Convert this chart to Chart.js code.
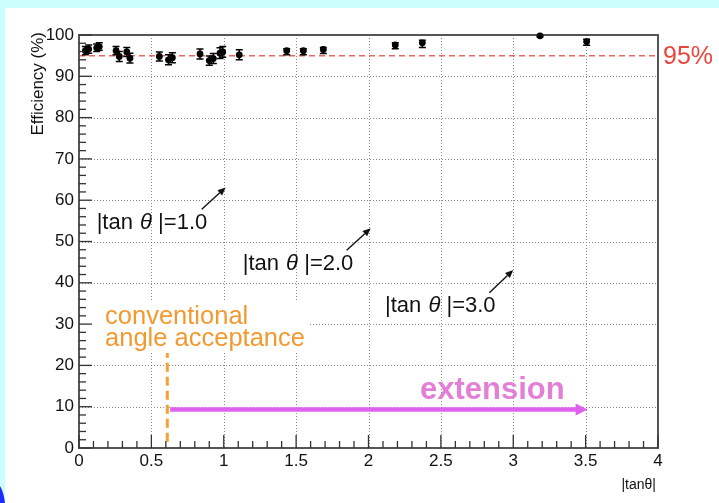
<!DOCTYPE html>
<html>
<head>
<meta charset="utf-8">
<script src="https://cdn.jsdelivr.net/npm/chart.js@4.4.0/dist/chart.umd.min.js"></script>
<style>
  html, body { margin: 0; padding: 0; background: #ccfefe; }
  #wrap { width: 719px; height: 503px; }
</style>
</head>
<body>
<div id="wrap"><canvas id="c" width="719" height="503"></canvas></div>
<script>
// ---- data ----
const tanTheta   = [0.044,0.067,0.122,0.140,0.256,0.278,0.330,0.352,0.555,0.618,0.645,0.836,0.900,0.928,0.974,0.993,1.107,1.435,1.550,1.688,2.185,2.372,3.185,3.507];
const efficiency = [96.2,96.6,96.9,97.2,96.2,94.8,95.9,94.4,94.8,94.0,94.5,95.4,93.8,94.3,95.6,95.9,95.2,96.2,96.2,96.5,97.6,98.1,99.8,98.4];
const errLow     = [1.0,1.0,0.9,0.9,1.0,1.2,1.1,1.2,1.1,1.2,1.2,1.2,1.1,1.2,1.3,1.3,1.2,1.0,1.0,1.0,0.9,1.1,0.2,0.9];
const errHigh    = [1.0,1.0,0.9,0.9,1.0,1.2,1.1,1.2,1.1,1.2,1.2,1.2,1.1,1.2,1.3,1.3,1.2,0.5,0.5,0.5,0.5,0.6,0.2,0.6];

const xTicks = [0,0.5,1,1.5,2,2.5,3,3.5,4];
const yTicks = [0,10,20,30,40,50,60,70,80,90,100];
const refLevel = 95;          // dashed reference line
const conventionalCut = 0.61; // orange dashed line
const extensionRange = [0.63, 3.5];
const extensionLevel = 9.3;
const orangeRange = [1.5, 23];

// annotation arrows: [tailX, tailY, tipX, tipY]
const arrowTails = [[0.848,57.8],[1.849,47.9],[2.835,37.6]];
const arrowTips  = [[1.013,63.1],[2.015,53.2],[3.0,43.1]];
const arrowLabels = ["1.0","2.0","3.0"];
const labelPos = [[0.122,54.5],[1.131,44.6],[2.114,34.4]];

const scatterData = tanTheta.map((t,i)=>({x:t, y:efficiency[i]}));

const bgPlugin = {
  id:'bg',
  beforeDraw(chart){
    const ctx = chart.ctx;
    ctx.save();
    ctx.fillStyle = '#ccfefe';
    ctx.fillRect(0,0,719,503);
    ctx.fillStyle = '#ffffff';
    ctx.fillRect(5,8,714,495);
    ctx.fillStyle = '#1a2cff';
    ctx.beginPath();
    ctx.moveTo(0,486);
    ctx.quadraticCurveTo(4,493,5,503);
    ctx.lineTo(0,503);
    ctx.closePath();
    ctx.fill();
    ctx.restore();
  }
};

function minorValues(min,max,step){ const v=[]; for(let k=Math.round(min/step); k*step<=max+1e-9; k++) v.push(+(k*step).toFixed(4)); return v; }

const gridPlugin = {
  id:'gridFrame',
  beforeDatasetsDraw(chart){
    const {ctx, chartArea:a, scales:{x,y}} = chart;
    ctx.save();
    ctx.strokeStyle = '#8a8a8a';
    ctx.lineWidth = 1;
    ctx.setLineDash([1,2]);
    xTicks.forEach(v=>{ if(v<=0||v>=4) return; const px=Math.round(x.getPixelForValue(v))+0.5; ctx.beginPath(); ctx.moveTo(px,a.top); ctx.lineTo(px,a.bottom); ctx.stroke(); });
    yTicks.forEach(v=>{ if(v<=0||v>=100) return; const py=Math.round(y.getPixelForValue(v))+0.5; ctx.beginPath(); ctx.moveTo(a.left,py); ctx.lineTo(a.right,py); ctx.stroke(); });
    ctx.setLineDash([]);
    // white text boxes
    ctx.fillStyle = '#ffffff';
    const b = (x0,y0,x1,y1)=>{ const X0=x.getPixelForValue(x0), X1=x.getPixelForValue(x1), Y0=y.getPixelForValue(y0), Y1=y.getPixelForValue(y1); ctx.fillRect(Math.min(X0,X1),Math.min(Y0,Y1),Math.abs(X1-X0),Math.abs(Y1-Y0)); };
    b(0.01,35.4,1.59,23.3);
    ctx.restore();
  },
  afterDatasetsDraw(chart){
    const {ctx, chartArea:a, scales:{x,y}} = chart;
    ctx.save();
    // frame
    ctx.strokeStyle = '#555555';
    ctx.lineWidth = 2;
    ctx.strokeRect(a.left, a.top, a.right-a.left, a.bottom-a.top);
    // ticks inside
    ctx.strokeStyle = '#333333';
    ctx.lineWidth = 1.3;
    minorValues(0,100,2).forEach(v=>{ const py=y.getPixelForValue(v); const L = (Math.abs(v%10)<1e-6)?13:7; ctx.beginPath(); ctx.moveTo(a.left,py); ctx.lineTo(a.left+L,py); ctx.stroke(); });
    minorValues(0,4,0.1).forEach(v=>{ const px=x.getPixelForValue(v); const L = (Math.abs((v*10)%5)<1e-6)?13:7; ctx.beginPath(); ctx.moveTo(px,a.bottom); ctx.lineTo(px,a.bottom-L); ctx.stroke(); });
    // error bars
    ctx.strokeStyle = '#000';
    ctx.lineWidth = 1.5;
    tanTheta.forEach((t,i)=>{
      const px = x.getPixelForValue(t);
      const pl = y.getPixelForValue(efficiency[i]-errLow[i]);
      const ph = y.getPixelForValue(efficiency[i]+errHigh[i]);
      ctx.beginPath();
      ctx.moveTo(px,pl); ctx.lineTo(px,ph);
      ctx.moveTo(px-3.5,pl); ctx.lineTo(px+3.5,pl);
      ctx.moveTo(px-3.5,ph); ctx.lineTo(px+3.5,ph);
      ctx.stroke();
    });
    // magenta arrow head
    {
      const tx = x.getPixelForValue(extensionRange[1])+2, ty = y.getPixelForValue(extensionLevel);
      ctx.fillStyle = '#e060ee';
      ctx.beginPath(); ctx.moveTo(tx,ty); ctx.lineTo(tx-12,ty-6); ctx.lineTo(tx-12,ty+6); ctx.closePath(); ctx.fill();
    }
    // black arrows
    ctx.strokeStyle = '#111'; ctx.fillStyle = '#111'; ctx.lineWidth = 1.4;
    arrowTails.forEach((tl,i)=>{
      const x0=x.getPixelForValue(tl[0]), y0=y.getPixelForValue(tl[1]);
      const x1=x.getPixelForValue(arrowTips[i][0]), y1=y.getPixelForValue(arrowTips[i][1]);
      const ang=Math.atan2(y1-y0,x1-x0);
      const hl=8, hw=3.5;
      const bx=x1-hl*Math.cos(ang), by=y1-hl*Math.sin(ang);
      ctx.beginPath(); ctx.moveTo(x0,y0); ctx.lineTo(bx,by); ctx.stroke();
      ctx.beginPath(); ctx.moveTo(x1,y1);
      ctx.lineTo(bx+hw*Math.sin(ang), by-hw*Math.cos(ang));
      ctx.lineTo(bx-hw*Math.sin(ang), by+hw*Math.cos(ang));
      ctx.closePath(); ctx.fill();
    });
    // labels |tan θ |=N
    ctx.textBaseline = 'middle';
    arrowLabels.forEach((lab,i)=>{
      let px = x.getPixelForValue(labelPos[i][0]); const py = y.getPixelForValue(labelPos[i][1]);
      ctx.fillStyle = '#111';
      ctx.font = '22px "Liberation Sans", Arial, sans-serif';
      ctx.fillText('|tan ', px, py); px += ctx.measureText('|tan ').width + 1;
      ctx.font = 'italic 22px "Liberation Sans", Arial, sans-serif';
      ctx.fillText('θ', px, py); px += ctx.measureText('θ').width;
      ctx.font = '22px "Liberation Sans", Arial, sans-serif';
      ctx.fillText(' |=' + lab, px, py);
    });
    // conventional angle acceptance
    ctx.fillStyle = '#f29a30';
    ctx.font = '25.5px "Liberation Sans", Arial, sans-serif';
    ctx.fillText('conventional', x.getPixelForValue(0.18), y.getPixelForValue(31.8));
    ctx.fillText('angle acceptance', x.getPixelForValue(0.18), y.getPixelForValue(26.4));
    // extension
    ctx.fillStyle = '#e47fd8';
    ctx.font = 'bold 31px "Liberation Sans", Arial, sans-serif';
    ctx.fillText('extension', x.getPixelForValue(2.356), y.getPixelForValue(14.0));
    // 95%
    ctx.fillStyle = '#e8463c';
    ctx.font = '25px "Liberation Sans", Arial, sans-serif';
    ctx.fillText('95%', a.right+5, y.getPixelForValue(refLevel)+1);
    // axis titles
    ctx.fillStyle = '#111';
    ctx.font = '14px "Liberation Sans", Arial, sans-serif';
    ctx.textAlign = 'right';
    ctx.textBaseline = 'alphabetic';
    ctx.fillText('|tanθ|', a.right-2, 489);
    ctx.save();
    ctx.translate(43, a.top-3);
    ctx.rotate(-Math.PI/2);
    ctx.font = '17px "Liberation Sans", Arial, sans-serif';
    ctx.textAlign = 'right';
    ctx.fillText('Efficiency (%)', 0, 0);
    ctx.restore();
    ctx.restore();
  }
};

new Chart(document.getElementById('c'), {
  data: {
    datasets: [
      { type:'scatter', data: scatterData, pointRadius:3.4, pointHoverRadius:3.4, pointBackgroundColor:'#000', pointBorderColor:'#000', pointBorderWidth:0, clip:false, order:0 },
      { type:'line', data:[{x:0,y:refLevel},{x:4,y:refLevel}], borderColor:'#e8675f', borderWidth:1.5, borderDash:[6,4], pointRadius:0, order:1 },
      { type:'line', data:[{x:conventionalCut,y:orangeRange[0]},{x:conventionalCut,y:orangeRange[1]}], borderColor:'#f5a030', borderWidth:3, borderDash:[9,5], pointRadius:0, order:2 },
      { type:'line', data:[{x:extensionRange[0],y:extensionLevel},{x:extensionRange[1]-0.06,y:extensionLevel}], borderColor:'#e060ee', borderWidth:4.5, pointRadius:0, order:3 }
    ]
  },
  options: {
    responsive:false,
    animation:false,
    events:[],
    layout:{ padding:{ left:0, top:35, right:61, bottom:0 } },
    plugins:{ legend:{display:false}, tooltip:{enabled:false} },
    scales:{
      x:{ type:'linear', min:0, max:4,
          afterBuildTicks(s){ s.ticks = xTicks.map(v=>({value:v})); },
          afterFit(s){ s.height = 55; },
          grid:{display:false, drawTicks:false, tickLength:0}, border:{display:false},
          ticks:{ padding:3, color:'#111', font:{family:'"Liberation Sans", Arial, sans-serif', size:17}, maxRotation:0, autoSkip:false,
                  callback:(v)=>String(v) } },
      y:{ type:'linear', min:0, max:100,
          afterBuildTicks(s){ s.ticks = yTicks.map(v=>({value:v})); },
          afterFit(s){ s.width = 79; },
          grid:{display:false, drawTicks:false, tickLength:0}, border:{display:false},
          ticks:{ padding:5, color:'#111', font:{family:'"Liberation Sans", Arial, sans-serif', size:17}, autoSkip:false,
                  callback:(v)=>String(v) } }
    }
  },
  plugins:[bgPlugin, gridPlugin]
});
</script>
</body>
</html>
